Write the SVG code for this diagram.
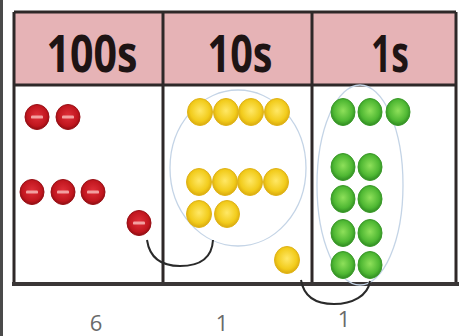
<svg xmlns="http://www.w3.org/2000/svg" width="459" height="336" viewBox="0 0 459 336">
<defs>
<radialGradient id="gy" cx="50%" cy="45%" r="55%"><stop offset="0" stop-color="#ffe866"/><stop offset="0.7" stop-color="#f2cc1c"/><stop offset="1" stop-color="#d9a90e"/></radialGradient>
<radialGradient id="gg" cx="50%" cy="45%" r="55%"><stop offset="0" stop-color="#8ee05a"/><stop offset="0.7" stop-color="#4fb833"/><stop offset="1" stop-color="#2f8a22"/></radialGradient>
<radialGradient id="gr" cx="50%" cy="45%" r="55%"><stop offset="0" stop-color="#e0303a"/><stop offset="0.75" stop-color="#c0161e"/><stop offset="1" stop-color="#8e0d12"/></radialGradient>
<g id="rd"><ellipse rx="12" ry="12.5" fill="url(#gr)" stroke="#9a1016" stroke-width="1"/><rect x="-6" y="-1.6" width="12" height="3.2" rx="1.2" fill="#f2a0a0"/></g>
<ellipse id="yd" rx="12.5" ry="13.5" fill="url(#gy)" stroke="#e0b418" stroke-width="1"/>
<ellipse id="gd" rx="12" ry="13.5" fill="url(#gg)" stroke="#3a9a28" stroke-width="1"/>
</defs>
<style>
.hdr{font-family:"Open Sans","Liberation Sans",sans-serif;font-weight:700;font-size:52px;fill:#1e1414}
.cnt{font-family:"Open Sans","Liberation Sans",sans-serif;font-size:22px;fill:#6a6a6a}
.grid{stroke:#2e2828;stroke-width:3;fill:none}
.ring{fill:none;stroke:#c4d4e6;stroke-width:1.3}
.link{fill:none;stroke:#2a2a2a;stroke-width:2}
</style>
<rect width="459" height="336" fill="#ffffff"/>
<rect x="0" y="0" width="3" height="336" fill="#4a4a4a"/>
<g id="table">
<rect x="14" y="12" width="442" height="73" fill="#e6b3b6"/>
<path class="grid" d="M14,12 H456 M14,85 H456 M14,12 V284 M163,12 V286 M312,12 V284 M456,12 V284"/>
<path d="M12,284 H459" stroke="#3a3636" stroke-width="4"/>
<text class="hdr" x="92" y="72" text-anchor="middle" textLength="91" lengthAdjust="spacingAndGlyphs">100s</text>
<text class="hdr" x="240" y="72" text-anchor="middle" textLength="65" lengthAdjust="spacingAndGlyphs">10s</text>
<text class="hdr" x="390" y="72" text-anchor="middle" textLength="38" lengthAdjust="spacingAndGlyphs">1s</text>
</g>
<g id="hundreds">
<use href="#rd" x="37" y="117"/><use href="#rd" x="68" y="117"/>
<use href="#rd" x="32" y="192"/><use href="#rd" x="63" y="192"/><use href="#rd" x="93" y="192"/>
<use href="#rd" x="139" y="223"/>
</g>
<g id="tens">
<ellipse class="ring" cx="238" cy="168" rx="68" ry="78"/>
<use href="#yd" x="200" y="112"/><use href="#yd" x="226" y="112"/><use href="#yd" x="251" y="112"/><use href="#yd" x="277" y="112"/>
<use href="#yd" x="199" y="182"/><use href="#yd" x="225" y="182"/><use href="#yd" x="250" y="182"/><use href="#yd" x="276" y="182"/>
<use href="#yd" x="199" y="214"/><use href="#yd" x="227" y="214"/>
<use href="#yd" x="287" y="260"/>
</g>
<g id="ones">
<ellipse class="ring" cx="360" cy="185" rx="43" ry="100"/>
<use href="#gd" x="343" y="112"/><use href="#gd" x="370" y="112"/><use href="#gd" x="398" y="112"/>
<use href="#gd" x="343" y="167"/><use href="#gd" x="370" y="167"/>
<use href="#gd" x="343" y="199"/><use href="#gd" x="370" y="199"/>
<use href="#gd" x="343" y="233"/><use href="#gd" x="370" y="233"/>
<use href="#gd" x="343" y="265"/><use href="#gd" x="370" y="265"/>
</g>
<g id="connectors">
<path class="link" d="M147,240 C150,260 163,266 180,266 C200,266 212,258 213,240"/>
<path class="link" d="M301,280 C304,298 318,304 334,304 C352,304 368,296 370,281"/>
</g>
<g id="counts">
<text class="cnt" x="96" y="331" text-anchor="middle">6</text>
<text class="cnt" x="222" y="331" text-anchor="middle">1</text>
<text class="cnt" x="344" y="327" text-anchor="middle">1</text>
</g>
</svg>
